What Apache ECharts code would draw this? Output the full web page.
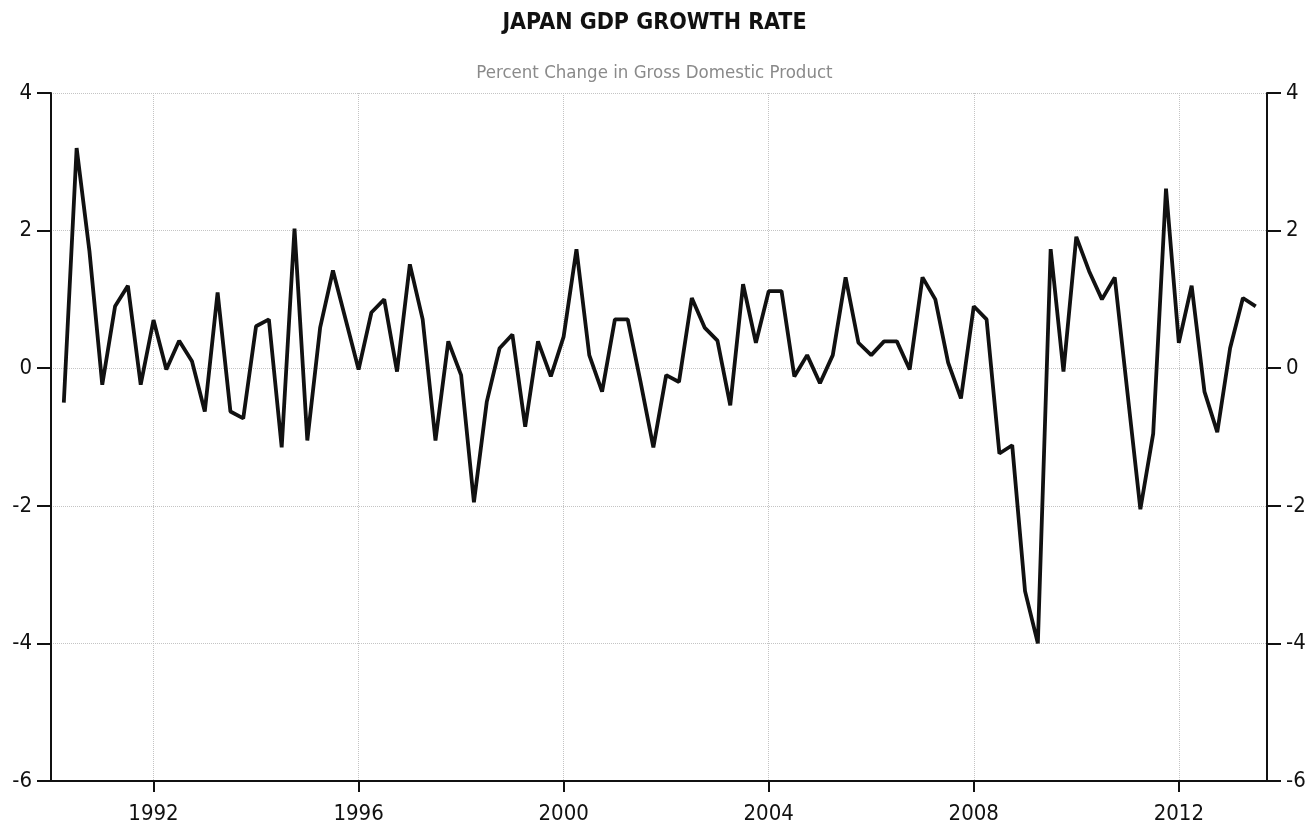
<!DOCTYPE html>
<html>
<head>
<meta charset="utf-8">
<script src="https://cdn.jsdelivr.net/npm/echarts@6/dist/echarts.min.js"></script>
<style>
  html, body { margin: 0; padding: 0; background: #fff; }
  #main { width: 1309px; height: 832px; }
</style>
</head>
<body>
<div id="main"></div>
<script>
// quarterly series, 1990 Q1 .. 2013 Q2
var startYear = 1990;
var growth = [
  -0.5, 3.2, 1.7, -0.24, 0.9, 1.2, -0.24, 0.7, -0.02, 0.4,
  0.1, -0.63, 1.1, -0.63, -0.73, 0.61, 0.71, -1.15, 2.03, -1.05,
  0.59, 1.42, 0.7, -0.02, 0.81, 1.0, -0.05, 1.51, 0.71, -1.05,
  0.39, -0.1, -1.95, -0.49, 0.29, 0.49, -0.85, 0.39, -0.12, 0.46,
  1.73, 0.19, -0.34, 0.71, 0.71, -0.2, -1.15, -0.1, -0.2, 1.02,
  0.59, 0.4, -0.54, 1.22, 0.37, 1.12, 1.12, -0.12, 0.19, -0.22,
  0.19, 1.32, 0.37, 0.19, 0.39, 0.39, -0.02, 1.32, 1.0, 0.08,
  -0.44, 0.9, 0.71, -1.24, -1.12, -3.24, -4.0, 1.73, -0.05, 1.91,
  1.41, 1.0, 1.32, -0.37, -2.05, -0.95, 2.61, 0.37, 1.2, -0.34,
  -0.93, 0.29, 1.02, 0.9
];
var yearTicks = [1992, 1996, 2000, 2004, 2008, 2012];

// a quarter is drawn at the end of its period
var points = growth.map(function (v, i) {
  return [startYear + (i + 1) * 0.25, v];
});

var fontFamily = '"DejaVu Sans Condensed", sans-serif';

var myChart = echarts.init(document.getElementById('main'));

var yAxisBase = {
  type: 'value',
  min: -6,
  max: 4,
  interval: 2,
  axisLine: { show: true, onZero: false, lineStyle: { color: '#111', width: 2 } },
  axisTick: { show: true, length: 14, lineStyle: { color: '#111', width: 2 } },
  axisLabel: { fontSize: 22, color: '#111', fontFamily: fontFamily, margin: 19 }
};

myChart.setOption({
  backgroundColor: '#fff',
  animation: false,
  title: {
    text: 'JAPAN GDP GROWTH RATE',
    subtext: 'Percent Change in Gross Domestic Product',
    left: 'center',
    top: 7,
    itemGap: 29,
    textStyle: { fontSize: 23, fontWeight: 'bold', color: '#111', fontFamily: fontFamily },
    subtextStyle: { fontSize: 18.5, color: '#8a8a8a', fontFamily: fontFamily }
  },
  grid: { left: 51, right: 42, top: 93, bottom: 51 },
  xAxis: {
    type: 'value',
    min: 1990,
    max: 2013.72,
    axisLine: { show: true, onZero: false, lineStyle: { color: '#111', width: 2 } },
    axisTick: { show: true, customValues: yearTicks, length: 11, lineStyle: { color: '#111', width: 2 } },
    axisLabel: {
      customValues: yearTicks,
      fontSize: 22,
      color: '#111',
      fontFamily: fontFamily,
      margin: 22,
      formatter: function (v) { return String(v); }
    },
    splitLine: { show: true, lineStyle: { color: '#c4c4c4', type: 'dotted', width: 1 } }
  },
  yAxis: [
    Object.assign({}, yAxisBase, {
      position: 'left',
      splitLine: { show: true, lineStyle: { color: '#c4c4c4', type: 'dotted', width: 1 } }
    }),
    Object.assign({}, yAxisBase, {
      position: 'right',
      splitLine: { show: false }
    })
  ],
  series: [{
    type: 'line',
    data: points,
    symbol: 'none',
    lineStyle: { color: '#111', width: 3.8 }
  }]
});
</script>
</body>
</html>
